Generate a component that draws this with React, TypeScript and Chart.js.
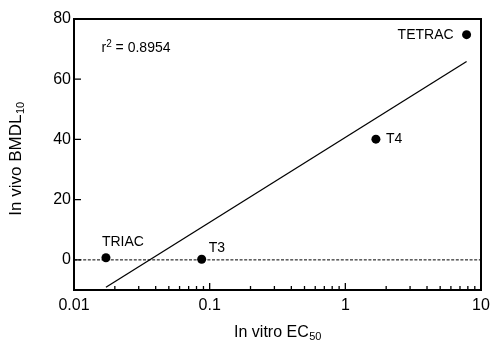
import React, { useEffect, useRef } from "react";
import { Chart, registerables } from "chart.js";

Chart.register(...registerables);

const compounds = ["TRIAC", "T3", "T4", "TETRAC"];
const ec50 = [0.0172, 0.0873, 1.68, 7.83];
const bmdl10 = [0.7, 0.2, 40.1, 74.8];
const fitX = [0.0172, 7.83];
const fitY = [-9.1, 65.9];
const refX = [0.01, 10];
const refY = [0, 0];
const yTicks = [0, 20, 40, 60, 80];
const xMajor = [0.01, 0.1, 1, 10];
const rSquared = "0.8954";

const labelStyle: Record<string, { dx: number; dy: number; align: CanvasTextAlign }> = {
  TRIAC: { dx: -4, dy: -16, align: "left" },
  T3: { dx: 7, dy: -11, align: "left" },
  T4: { dx: 10, dy: 0, align: "left" },
  TETRAC: { dx: -13, dy: 0, align: "right" },
};

const FONT = "'Liberation Sans', Arial, Helvetica, sans-serif";

function drawSub(
  ctx: CanvasRenderingContext2D,
  main: string,
  sub: string,
  cx: number,
  baseline: number,
  size: number,
  subSize: number
) {
  ctx.font = `${size}px ${FONT}`;
  const w1 = ctx.measureText(main).width;
  ctx.font = `${subSize}px ${FONT}`;
  const w2 = ctx.measureText(sub).width;
  const x = cx - (w1 + w2) / 2;
  ctx.textAlign = "left";
  ctx.textBaseline = "alphabetic";
  ctx.font = `${size}px ${FONT}`;
  ctx.fillText(main, x, baseline);
  ctx.font = `${subSize}px ${FONT}`;
  ctx.fillText(sub, x + w1 + 0.5, baseline + 3);
}

const customPlugin = {
  id: "custom",
  afterDraw(chart: any) {
    const { ctx, chartArea: ca, scales } = chart;
    const xs = scales.x;
    const ys = scales.y;
    ctx.save();
    ctx.setLineDash([]);
    ctx.strokeStyle = "#000";
    ctx.fillStyle = "#000";
    ctx.lineWidth = 2;
    ctx.strokeRect(ca.left, ca.top, ca.right - ca.left, ca.bottom - ca.top);
    ctx.lineWidth = 1.3;
    ctx.beginPath();
    yTicks.forEach((v) => {
      const py = ys.getPixelForValue(v);
      ctx.moveTo(ca.left, py);
      ctx.lineTo(ca.left + 7, py);
    });
    xMajor.forEach((m, i) => {
      const px = xs.getPixelForValue(m);
      ctx.moveTo(px, ca.bottom);
      ctx.lineTo(px, ca.bottom - 7);
      if (i < xMajor.length - 1) {
        for (let k = 2; k <= 9; k++) {
          const qx = xs.getPixelForValue(m * k);
          ctx.moveTo(qx, ca.bottom);
          ctx.lineTo(qx, ca.bottom - 4);
        }
      }
    });
    ctx.stroke();

    const meta = chart.getDatasetMeta(2);
    ctx.font = `14px ${FONT}`;
    ctx.textBaseline = "middle";
    meta.data.forEach((el: any, i: number) => {
      const name = compounds[i];
      const s = labelStyle[name];
      ctx.textAlign = s.align;
      ctx.fillText(name, el.x + s.dx, el.y + s.dy);
    });

    ctx.textAlign = "left";
    ctx.textBaseline = "alphabetic";
    ctx.font = `14px ${FONT}`;
    const rx = 101.5;
    const ry = 52;
    ctx.fillText("r", rx, ry);
    const rw = ctx.measureText("r").width;
    ctx.font = `10px ${FONT}`;
    ctx.fillText("2", rx + rw, ry - 5.5);
    const sw = ctx.measureText("2").width;
    ctx.font = `14px ${FONT}`;
    ctx.fillText(" = " + rSquared, rx + rw + sw, ry);

    drawSub(ctx, "In vitro EC", "50", (ca.left + ca.right) / 2, 337, 16, 11);
    ctx.save();
    ctx.translate(21, 159);
    ctx.rotate(-Math.PI / 2);
    drawSub(ctx, "In vivo BMDL", "10", 0, 0, 17, 11);
    ctx.restore();

    ctx.restore();
  },
};

export default function App() {
  const ref = useRef<HTMLCanvasElement | null>(null);
  useEffect(() => {
    if (!ref.current) return;
    const chart = new Chart(ref.current, {
      type: "scatter",
      data: {
        datasets: [
          {
            data: refX.map((x, i) => ({ x, y: refY[i] })),
            showLine: true,
            borderColor: "#000",
            borderWidth: 1,
            borderDash: [3, 1.6],
            pointRadius: 0,
          },
          {
            data: fitX.map((x, i) => ({ x, y: fitY[i] })),
            showLine: true,
            borderColor: "#000",
            borderWidth: 1.3,
            pointRadius: 0,
          },
          {
            data: ec50.map((x, i) => ({ x, y: bmdl10[i] })),
            backgroundColor: "#000",
            borderColor: "#000",
            pointRadius: 4.5,
            pointBorderWidth: 0,
          },
        ],
      },
      options: {
        animation: false,
        responsive: false,
        layout: { padding: { top: 19, right: 9, left: 0, bottom: 0 } },
        plugins: { legend: { display: false }, tooltip: { enabled: false } },
        scales: {
          x: {
            type: "logarithmic",
            min: 0.01,
            max: 10,
            border: { display: false },
            grid: { display: false, drawTicks: false },
            afterFit: (s: any) => {
              s.height = 51;
              s.paddingLeft = 0;
              s.paddingRight = 0;
            },
            afterBuildTicks: (s: any) => {
              s.ticks = xMajor.map((v) => ({ value: v }));
            },
            ticks: {
              padding: 6,
              color: "#000",
              font: { family: FONT, size: 16 },
              autoSkip: false,
              maxRotation: 0,
              callback: (v: any) => String(v),
            },
          },
          y: {
            type: "linear",
            min: -10,
            max: 80,
            border: { display: false },
            grid: { display: false, drawTicks: false },
            afterFit: (s: any) => {
              s.width = 74;
              s.paddingTop = 0;
              s.paddingBottom = 0;
            },
            afterBuildTicks: (s: any) => {
              s.ticks = yTicks.map((v) => ({ value: v }));
            },
            ticks: {
              padding: 3,
              color: "#000",
              font: { family: FONT, size: 16 },
            },
          },
        },
      },
      plugins: [customPlugin],
    });
    return () => chart.destroy();
  }, []);
  return (
    <div style={{ position: "absolute", left: 0, top: 0, width: 490, height: 341, background: "#fff" }}>
      <canvas ref={ref} width={490} height={341} style={{ width: 490, height: 341, display: "block" }} />
    </div>
  );
}
